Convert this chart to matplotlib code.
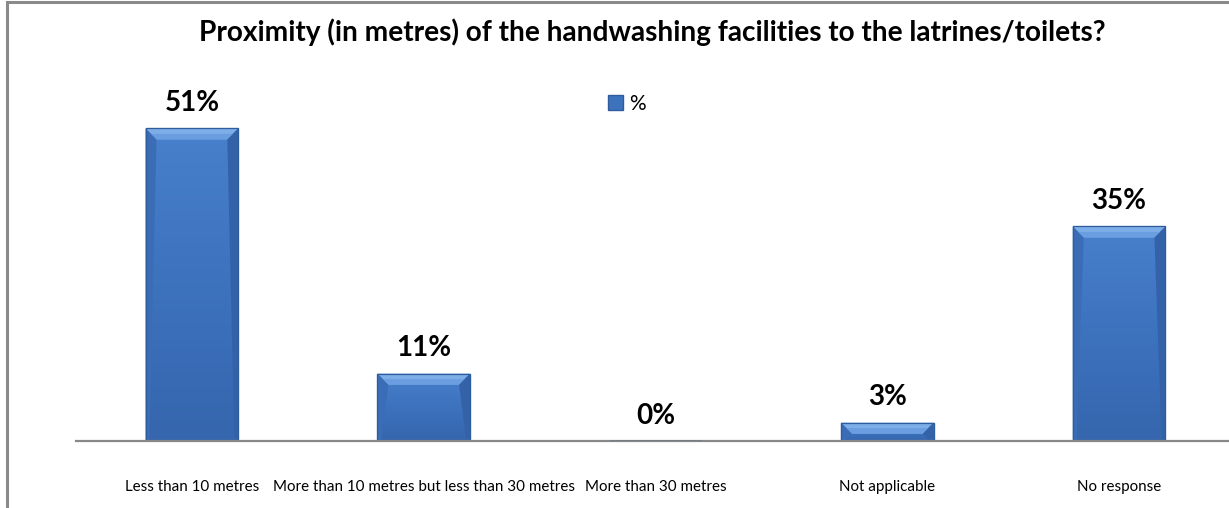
import matplotlib
matplotlib.use("Agg")
import matplotlib.pyplot as plt
import numpy as np
from matplotlib.patches import Rectangle, Polygon
from matplotlib.colors import LinearSegmentedColormap

categories = ["Less than 10 metres", "More than 10 metres but less than 30 metres",
              "More than 30 metres", "Not applicable", "No response"]
values = [51, 11, 0, 3, 35]
series_name = "%"
title = "Proximity (in metres) of the handwashing facilities to the latrines/toilets?"

W, H = 1229, 508
DPI = 100
plt.rcParams['font.family'] = ['Lato', 'DejaVu Sans']

fig = plt.figure(figsize=(W / DPI, H / DPI), dpi=DPI)
fig.patch.set_facecolor("white")

# chart area frame (runs off the right/bottom edge)
fig.patches.append(Rectangle((7 / W, -0.1), 1.2, (1 - 2 / H) + 0.1, transform=fig.transFigure,
                             fill=False, edgecolor="#8a8a8a", linewidth=2.2))

left_px, right_px, base_px = 76, 1235, 441
ymax = 55
px_per_unit = 6.13
top_px = base_px - ymax * px_per_unit
ax = fig.add_axes([left_px / W, 1 - base_px / H, (right_px - left_px) / W, (base_px - top_px) / H])
ax.set_xlim(-0.5, len(categories) - 0.5)
ax.set_ylim(0, ymax)
ax.patch.set_alpha(0)
for s in ["left", "right", "top"]:
    ax.spines[s].set_visible(False)
ax.spines["bottom"].set_color("#888888")
ax.spines["bottom"].set_linewidth(1.6)
ax.set_yticks([])
ax.set_xticks(range(len(categories)))
ax.set_xticklabels(categories, fontsize=10.9, color="#000000")
ax.tick_params(axis="x", length=0, pad=28)

x = np.arange(len(categories))
bw = 0.4
bars = ax.bar(x, values, width=bw, color="#3d72bd", edgecolor="#2f5c9c", linewidth=0.8,
              label=series_name, zorder=2)

# bevelled shading on each bar
grad = LinearSegmentedColormap.from_list("g", ["#3566ae", "#3d72bd", "#4880cc"])
fig.canvas.draw()
inv = ax.transData.inverted()
for b in bars:
    h = b.get_height()
    x0 = b.get_x()
    x1 = x0 + b.get_width()
    if h <= 0:
        ax.plot([x0, x1], [0, 0], color="#6f7a86", lw=1.8, zorder=3, solid_capstyle="butt")
        continue
    im = ax.imshow(np.linspace(0, 1, 64).reshape(-1, 1), cmap=grad, aspect="auto",
                   extent=(x0, x1, 0, h), origin="lower", zorder=2.1)
    im.set_clip_path(b)
    # bevel size in pixels converted to data units
    p0 = ax.transData.transform((x0, h))
    bev = 11
    dx = inv.transform((p0[0] + bev, p0[1]))[0] - x0
    dy = h - inv.transform((p0[0], p0[1] - bev))[1]
    dy = min(dy, h * 0.9)
    dxe = dx * 0.35
    top = Polygon([(x0, h), (x1, h), (x1 - dx, h - dy), (x0 + dx, h - dy)],
                  closed=True, facecolor="#7eaee8", edgecolor="none", zorder=2.2)
    ax.add_patch(top)
    topin = Polygon([(x0 + dx * 0.5, h - dy * 0.5), (x1 - dx * 0.5, h - dy * 0.5),
                     (x1 - dx, h - dy), (x0 + dx, h - dy)],
                    closed=True, facecolor="#6a9ee0", edgecolor="none", zorder=2.25)
    ax.add_patch(topin)
    lside = Polygon([(x0, h), (x0 + dx, h - dy), (x0 + dxe, 0), (x0, 0)],
                    closed=True, facecolor="#3a6db6", edgecolor="none", zorder=2.2)
    rside = Polygon([(x1, h), (x1 - dx, h - dy), (x1 - dxe, 0), (x1, 0)],
                    closed=True, facecolor="#3462a8", edgecolor="none", zorder=2.2)
    ax.add_patch(lside)
    ax.add_patch(rside)
    ax.add_patch(Rectangle((x0, 0), x1 - x0, h, fill=False, edgecolor="#2f5c9c",
                           linewidth=0.9, zorder=2.4))

for b, v in zip(bars, values):
    ax.annotate(f"{v}%", (b.get_x() + b.get_width() / 2, b.get_height()),
                xytext=(0, 9), textcoords="offset points", ha="center", va="bottom",
                fontsize=20, fontweight="bold", color="#000000")

fig.text(652 / W, 1 - 32 / H, title, ha="center", va="center", fontsize=20.2,
         fontweight="bold", color="#000000")

leg = fig.legend(handles=[Rectangle((0, 0), 1, 1, facecolor="#3d72bd", edgecolor="#2f5c9c")],
                 labels=[series_name], loc="center", bbox_to_anchor=(627 / W, 1 - 104 / H),
                 frameon=False, fontsize=15, handlelength=0.75, handleheight=0.75,
                 handletextpad=0.3)

fig.savefig("out.png", dpi=DPI)
